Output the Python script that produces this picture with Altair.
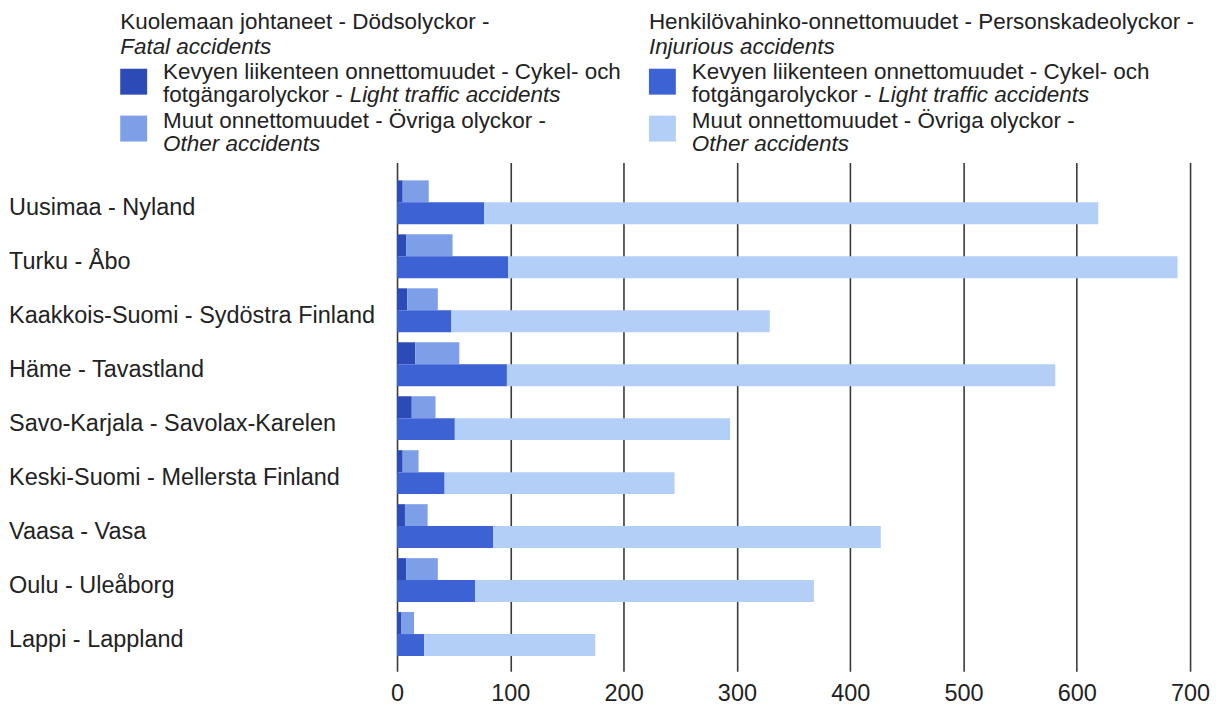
import altair as alt
import pandas as pd

regions = [
    "Uusimaa - Nyland",
    "Turku - Åbo",
    "Kaakkois-Suomi - Sydöstra Finland",
    "Häme - Tavastland",
    "Savo-Karjala - Savolax-Karelen",
    "Keski-Suomi - Mellersta Finland",
    "Vaasa - Vasa",
    "Oulu - Uleåborg",
    "Lappi - Lappland",
]
fatal_light = [5, 8, 9, 16, 13, 5, 7, 8, 4]
fatal_other = [23, 41, 27, 39, 21, 14, 20, 28, 11]
injury_light = [77, 98, 48, 97, 51, 42, 85, 69, 24]
injury_other = [542, 591, 281, 484, 243, 203, 342, 299, 151]

series_keys = ["fatal_light", "fatal_other", "injury_light", "injury_other"]
series_colors = ["#2c4bb6", "#7d9fe8", "#3d62d4", "#b3cff7"]
x_ticks = [0, 100, 200, 300, 400, 500, 600, 700]

rows = []
for i, r in enumerate(regions):
    rows.append({"region": r, "group": "fatal", "series": "fatal_light", "ord": 0, "value": fatal_light[i]})
    rows.append({"region": r, "group": "fatal", "series": "fatal_other", "ord": 1, "value": fatal_other[i]})
    rows.append({"region": r, "group": "injury", "series": "injury_light", "ord": 0, "value": injury_light[i]})
    rows.append({"region": r, "group": "injury", "series": "injury_other", "ord": 1, "value": injury_other[i]})
df = pd.DataFrame(rows)

FONT = "Liberation Sans"
TXT = "#222222"

bars = (
    alt.Chart(df)
    .transform_stack(
        stack="value",
        groupby=["region", "group"],
        sort=[alt.SortField("ord", order="ascending")],
        as_=["v0", "v1"],
    )
    .mark_bar()
    .encode(
        y=alt.Y(
            "region:N",
            sort=regions,
            scale=alt.Scale(paddingInner=0.187, paddingOuter=0.307, align=0.54),
            axis=alt.Axis(
                title=None,
                labelAlign="left",
                labelBaseline="middle",
                labelPadding=389.5,
                labelOffset=6,
                ticks=False,
                tickSize=0,
                domain=False,
                labelFontSize=23.5,
                labelFont=FONT,
                labelColor=TXT,
                labelLimit=600,
            ),
        ),
        yOffset=alt.YOffset(
            "group:N",
            sort=["fatal", "injury"],
            scale=alt.Scale(paddingInner=0, paddingOuter=0),
        ),
        x=alt.X(
            "v0:Q",
            scale=alt.Scale(domain=[0, 700], nice=False),
            axis=alt.Axis(
                title=None,
                values=x_ticks,
                grid=True,
                gridColor="#3a3a3a",
                gridWidth=1.6,
                domain=False,
                ticks=False,
                tickSize=0,
                labelPadding=10,
                labelFontSize=23.5,
                labelFont=FONT,
                labelColor=TXT,
                labelFlush=False,
            ),
        ),
        x2="v1:Q",
        color=alt.Color(
            "series:N",
            scale=alt.Scale(domain=series_keys, range=series_colors),
            legend=None,
        ),
    )
)


def txt(s, x, y, italic=False):
    return (
        alt.Chart(alt.Data(values=[{"k": 1}]))
        .mark_text(
            text=s,
            align="left",
            baseline="middle",
            font=FONT,
            fontSize=22.5,
            fontStyle="italic" if italic else "normal",
            color=TXT,
        )
        .encode(x=alt.value(x), y=alt.value(y))
    )


def swatch(color, x, y):
    return (
        alt.Chart(alt.Data(values=[{"k": 1}]))
        .mark_rect(color=color)
        .encode(x=alt.value(x), x2=alt.value(x + 27), y=alt.value(y), y2=alt.value(y + 26))
    )


def legend_block(x0, header, header_en, c_light, c_other):
    xi = x0 + 43
    return [
        txt(header, x0, -140.5),
        txt(header_en, x0, -115.5, italic=True),
        swatch(c_light, x0, -94),
        txt("Kevyen liikenteen onnettomuudet - Cykel- och", xi, -90.5),
        txt("fotgängarolyckor - ", xi, -67.5),
        txt("Light traffic accidents", xi + 187, -67.5, italic=True),
        swatch(c_other, x0, -47),
        txt("Muut onnettomuudet - Övriga olyckor -", xi, -42),
        txt("Other accidents", xi, -19, italic=True),
    ]


legend_layers = legend_block(
    -277.5, "Kuolemaan johtaneet - Dödsolyckor -", "Fatal accidents",
    series_colors[0], series_colors[1],
) + legend_block(
    252.5, "Henkilövahinko-onnettomuudet - Personskadeolyckor -", "Injurious accidents",
    series_colors[2], series_colors[3],
)

chart = (
    alt.layer(bars, *legend_layers)
    .properties(
        width=795,
        height=510,
        padding={"left": 0, "top": 2, "right": 5, "bottom": 5},
        background="white",
    )
    .configure_view(stroke=None)
)

chart.save("out.html", embed_options={"renderer": "svg", "actions": False})
